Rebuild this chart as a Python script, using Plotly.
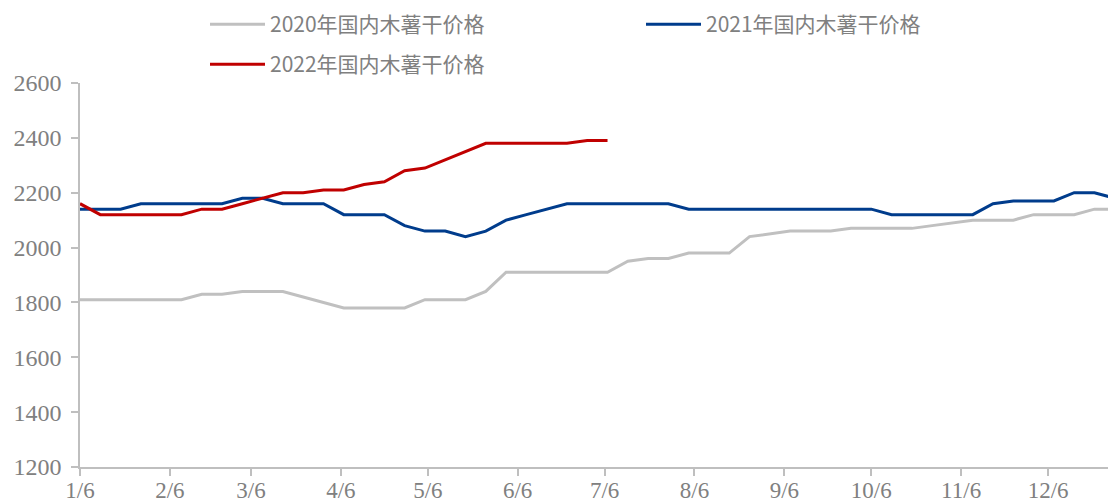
import plotly.graph_objects as go
import pandas as pd

# weekly observation dates (shown on a common year axis)
week_dates = pd.date_range("2022-01-06", periods=52, freq="7D")

price_2020 = [1810, 1810, 1810, 1810, 1810, 1810, 1830, 1830, 1840, 1840,
              1840, 1820, 1800, 1780, 1780, 1780, 1780, 1810, 1810, 1810,
              1840, 1910, 1910, 1910, 1910, 1910, 1910, 1950, 1960, 1960,
              1980, 1980, 1980, 2040, 2050, 2060, 2060, 2060, 2070, 2070,
              2070, 2070, 2080, 2090, 2100, 2100, 2100, 2120, 2120, 2120,
              2140, 2140]
price_2021 = [2140, 2140, 2140, 2160, 2160, 2160, 2160, 2160, 2180, 2180,
              2160, 2160, 2160, 2120, 2120, 2120, 2080, 2060, 2060, 2040,
              2060, 2100, 2120, 2140, 2160, 2160, 2160, 2160, 2160, 2160,
              2140, 2140, 2140, 2140, 2140, 2140, 2140, 2140, 2140, 2140,
              2120, 2120, 2120, 2120, 2120, 2160, 2170, 2170, 2170, 2200,
              2200, 2180]
price_2022 = [2160, 2120, 2120, 2120, 2120, 2120, 2140, 2140, 2160, 2180,
              2200, 2200, 2210, 2210, 2230, 2240, 2280, 2290, 2320, 2350,
              2380, 2380, 2380, 2380, 2380, 2390, 2390]

names = ["2020年国内木薯干价格", "2021年国内木薯干价格", "2022年国内木薯干价格"]
tick_months = list(range(1, 13))
tick_text = [f"{m}/6" for m in tick_months]

gray = "#808080"
axis_col = "#bfbfbf"

fig = go.Figure()
fig.add_trace(go.Scatter(x=week_dates, y=price_2020, mode="lines", name=names[0],
                         line=dict(color="#c0c0c0", width=3), legend="legend"))
fig.add_trace(go.Scatter(x=week_dates, y=price_2021, mode="lines", name=names[1],
                         line=dict(color="#003c8c", width=3), legend="legend"))
fig.add_trace(go.Scatter(x=week_dates[:len(price_2022)], y=price_2022, mode="lines",
                         name=names[2], line=dict(color="#c00000", width=3),
                         legend="legend2"))

legend_style = dict(
    orientation="h", xref="container", yref="container",
    xanchor="left", yanchor="top",
    font=dict(family="Noto Sans CJK SC", size=21, color=gray),
    entrywidth=366, entrywidthmode="pixels", itemwidth=55,
    bgcolor="rgba(0,0,0,0)",
)

fig.update_layout(
    width=1108, height=504,
    margin=dict(l=80, r=0, t=83, b=37, autoexpand=False),
    plot_bgcolor="white", paper_bgcolor="white",
    legend=dict(legend_style, x=205 / 1108, y=1 - 4 / 504),
    legend2=dict(legend_style, x=205 / 1108, y=1 - 44 / 504),
    xaxis=dict(
        type="date",
        range=["2022-01-06", "2022-12-26 16:00"],
        tickvals=[f"2022-{m:02d}-06" for m in tick_months],
        ticktext=tick_text,
        showgrid=False, zeroline=False,
        showline=True, linecolor=axis_col, linewidth=1.5,
        ticks="outside", ticklen=7, tickcolor=axis_col, tickwidth=1.5,
        ticklabelstandoff=-5,
        tickfont=dict(family="Liberation Serif", size=23, color=gray),
    ),
    yaxis=dict(
        range=[1200, 2600], dtick=200,
        showgrid=False, zeroline=False,
        showline=True, linecolor=axis_col, linewidth=1.5,
        ticks="outside", ticklen=7, tickcolor=axis_col, tickwidth=1.5,
        ticklabelstandoff=5,
        tickfont=dict(family="Liberation Serif", size=24, color=gray),
    ),
)

fig.write_html("out.html", config={"displayModeBar": False},
               post_script="document.body.style.margin='0';")
